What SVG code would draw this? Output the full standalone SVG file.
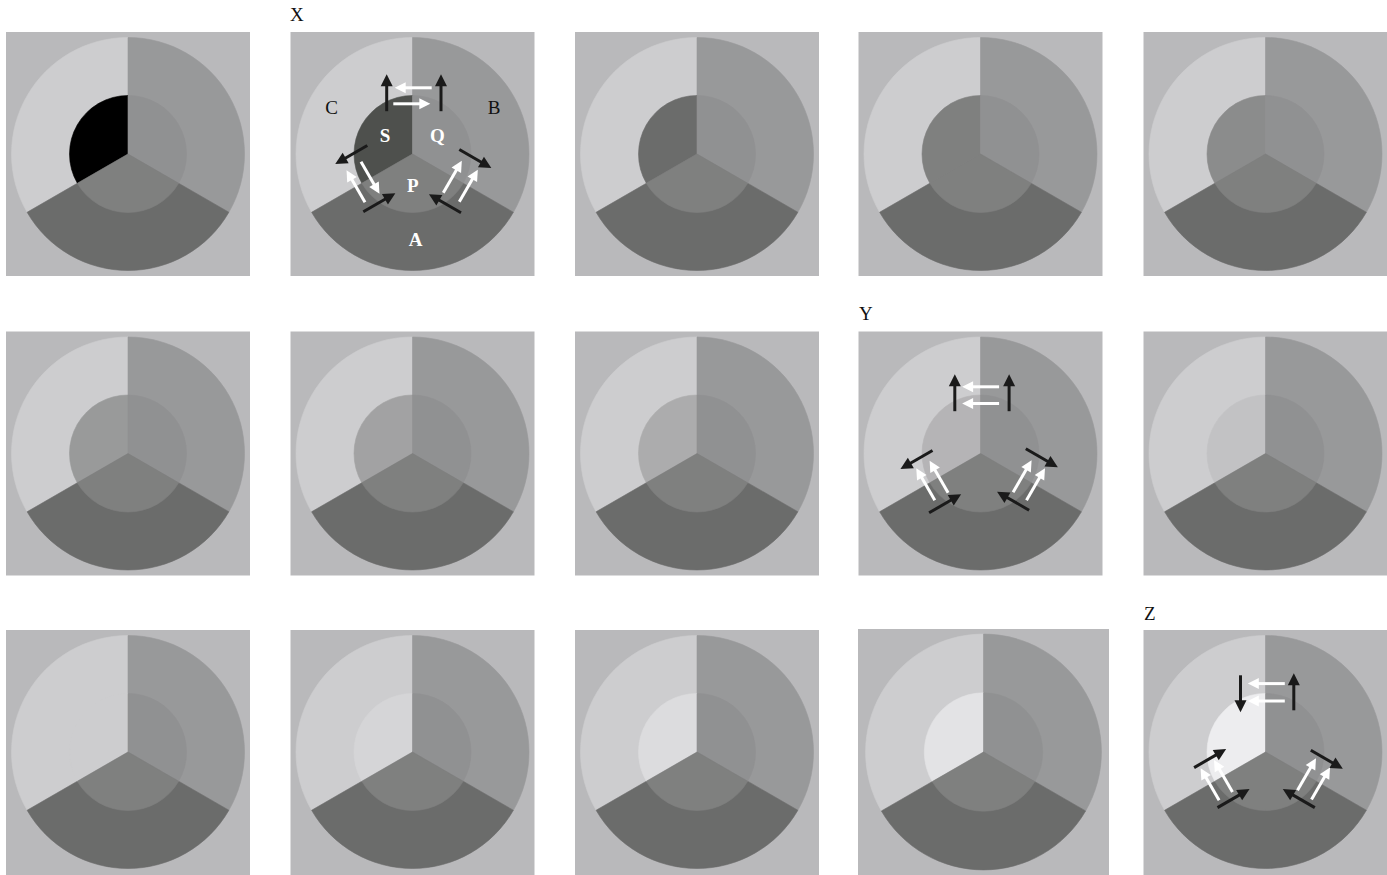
<svg xmlns="http://www.w3.org/2000/svg" width="1387" height="875" viewBox="0 0 1387 875">
<style>
.bg{fill:#b9b9bb}
.c{fill:#cdcdcf;stroke:#cdcdcf;stroke-width:0.6}
.b{fill:#98999a;stroke:#98999a;stroke-width:0.6}
.a{fill:#6b6c6b;stroke:#6b6c6b;stroke-width:0.6}
.p{fill:#7f807f;stroke:#7f807f;stroke-width:0.6}
.q{fill:#909192;stroke:#909192;stroke-width:0.6}
.s1{fill:#000000;stroke:#000000;stroke-width:0.6}
.s2{fill:#4e504d;stroke:#4e504d;stroke-width:0.6}
.s3{fill:#6b6c6b;stroke:#6b6c6b;stroke-width:0.6}
.s4{fill:#7f807f;stroke:#7f807f;stroke-width:0.6}
.s5{fill:#8b8c8c;stroke:#8b8c8c;stroke-width:0.6}
.s6{fill:#999a9a;stroke:#999a9a;stroke-width:0.6}
.s7{fill:#a2a2a3;stroke:#a2a2a3;stroke-width:0.6}
.s8{fill:#acacad;stroke:#acacad;stroke-width:0.6}
.s9{fill:#b5b4b6;stroke:#b5b4b6;stroke-width:0.6}
.s10{fill:#c2c2c4;stroke:#c2c2c4;stroke-width:0.6}
.s11{fill:#cdcdcf;stroke:#cdcdcf;stroke-width:0.6}
.s12{fill:#d5d5d7;stroke:#d5d5d7;stroke-width:0.6}
.s13{fill:#dcdcde;stroke:#dcdcde;stroke-width:0.6}
.s14{fill:#e3e3e5;stroke:#e3e3e5;stroke-width:0.6}
.s15{fill:#ededef;stroke:#ededef;stroke-width:0.6}
.t{font-family:"Liberation Serif","Times New Roman",serif;font-size:19px}
.k{fill:#111111}
.wt{fill:#ffffff;font-weight:bold}
</style>
<defs>
<path id="oC" d="M0,0 V-116.5 A116.5,116.5 0 0 0 -100.89,58.25 Z"/>
<path id="oB" d="M0,0 V-116.5 A116.5,116.5 0 0 1 100.89,58.25 Z"/>
<path id="oA" d="M0,0 L100.89,58.25 A116.5,116.5 0 0 1 -100.89,58.25 Z"/>
<path id="iS" d="M0,0 V-58.5 A58.5,58.5 0 0 0 -50.66,29.25 Z"/>
<path id="iQ" d="M0,0 V-58.5 A58.5,58.5 0 0 1 50.66,29.25 Z"/>
<path id="iP" d="M0,0 L50.66,29.25 A58.5,58.5 0 0 1 -50.66,29.25 Z"/>
<g id="ab"><line x1="0" y1="0" x2="27" y2="0" stroke="#1a1a1a" stroke-width="3"/><path d="M25,-6 L37,0 L25,6 Z" fill="#1a1a1a"/></g>
<g id="aw"><line x1="0" y1="0" x2="28" y2="0" stroke="#ffffff" stroke-width="3"/><path d="M26,-5.5 L37,0 L26,5.5 Z" fill="#ffffff"/></g>
</defs>

<!-- Row 1 -->
<g id="r1c1" transform="translate(128,154)">
<rect class="bg" x="-122" y="-122" width="244" height="244"/>
<use href="#oC" class="c"/><use href="#oB" class="b"/><use href="#oA" class="a"/>
<use href="#iS" class="s1"/><use href="#iQ" class="q"/><use href="#iP" class="p"/>
</g>
<g id="r1c2" transform="translate(412.5,154)">
<rect class="bg" x="-122" y="-122" width="244" height="244"/>
<use href="#oC" class="c"/><use href="#oB" class="b"/><use href="#oA" class="a"/>
<use href="#iS" class="s2"/><use href="#iQ" class="q"/><use href="#iP" class="p"/>
<text class="t k" x="-81" y="-40.5" text-anchor="middle">C</text>
<text class="t k" x="81.5" y="-40.5" text-anchor="middle">B</text>
<text class="t wt" x="-27.5" y="-12.3" text-anchor="middle">S</text>
<text class="t wt" x="25" y="-12.5" text-anchor="middle">Q</text>
<text class="t wt" x="0.2" y="37.7" text-anchor="middle">P</text>
<text class="t wt" x="3" y="92" text-anchor="middle">A</text>
</g>
<g id="r1c3" transform="translate(697,154)">
<rect class="bg" x="-122" y="-122" width="244" height="244"/>
<use href="#oC" class="c"/><use href="#oB" class="b"/><use href="#oA" class="a"/>
<use href="#iS" class="s3"/><use href="#iQ" class="q"/><use href="#iP" class="p"/>
</g>
<g id="r1c4" transform="translate(980.5,154)">
<rect class="bg" x="-122" y="-122" width="244" height="244"/>
<use href="#oC" class="c"/><use href="#oB" class="b"/><use href="#oA" class="a"/>
<use href="#iS" class="s4"/><use href="#iQ" class="q"/><use href="#iP" class="p"/>
</g>
<g id="r1c5" transform="translate(1265.5,154)">
<rect class="bg" x="-122" y="-122" width="244" height="244"/>
<use href="#oC" class="c"/><use href="#oB" class="b"/><use href="#oA" class="a"/>
<use href="#iS" class="s5"/><use href="#iQ" class="q"/><use href="#iP" class="p"/>
</g>

<!-- Row 2 -->
<g id="r2c1" transform="translate(128,453.5)">
<rect class="bg" x="-122" y="-122" width="244" height="244"/>
<use href="#oC" class="c"/><use href="#oB" class="b"/><use href="#oA" class="a"/>
<use href="#iS" class="s6"/><use href="#iQ" class="q"/><use href="#iP" class="p"/>
</g>
<g id="r2c2" transform="translate(412.5,453.5)">
<rect class="bg" x="-122" y="-122" width="244" height="244"/>
<use href="#oC" class="c"/><use href="#oB" class="b"/><use href="#oA" class="a"/>
<use href="#iS" class="s7"/><use href="#iQ" class="q"/><use href="#iP" class="p"/>
</g>
<g id="r2c3" transform="translate(697,453.5)">
<rect class="bg" x="-122" y="-122" width="244" height="244"/>
<use href="#oC" class="c"/><use href="#oB" class="b"/><use href="#oA" class="a"/>
<use href="#iS" class="s8"/><use href="#iQ" class="q"/><use href="#iP" class="p"/>
</g>
<g id="r2c4" transform="translate(980.5,453.5)">
<rect class="bg" x="-122" y="-122" width="244" height="244"/>
<use href="#oC" class="c"/><use href="#oB" class="b"/><use href="#oA" class="a"/>
<use href="#iS" class="s9"/><use href="#iQ" class="q"/><use href="#iP" class="p"/>
</g>
<g id="r2c5" transform="translate(1265.5,453.5)">
<rect class="bg" x="-122" y="-122" width="244" height="244"/>
<use href="#oC" class="c"/><use href="#oB" class="b"/><use href="#oA" class="a"/>
<use href="#iS" class="s10"/><use href="#iQ" class="q"/><use href="#iP" class="p"/>
</g>

<!-- Row 3 -->
<g id="r3c1" transform="translate(128,752)">
<rect class="bg" x="-122" y="-122" width="244" height="245"/>
<use href="#oC" class="c"/><use href="#oB" class="b"/><use href="#oA" class="a"/>
<use href="#iS" class="s11"/><use href="#iQ" class="q"/><use href="#iP" class="p"/>
</g>
<g id="r3c2" transform="translate(412.5,752)">
<rect class="bg" x="-122" y="-122" width="244" height="245"/>
<use href="#oC" class="c"/><use href="#oB" class="b"/><use href="#oA" class="a"/>
<use href="#iS" class="s12"/><use href="#iQ" class="q"/><use href="#iP" class="p"/>
</g>
<g id="r3c3" transform="translate(697,752)">
<rect class="bg" x="-122" y="-122" width="244" height="245"/>
<use href="#oC" class="c"/><use href="#oB" class="b"/><use href="#oA" class="a"/>
<use href="#iS" class="s13"/><use href="#iQ" class="q"/><use href="#iP" class="p"/>
</g>
<g id="r3c4" transform="translate(983.5,752)">
<rect class="bg" x="-125.5" y="-123" width="251" height="246"/>
<g transform="scale(1.012)">
<use href="#oC" class="c"/><use href="#oB" class="b"/><use href="#oA" class="a"/>
<use href="#iS" class="s14"/><use href="#iQ" class="q"/><use href="#iP" class="p"/>
</g>
</g>
<g id="r3c5" transform="translate(1265.5,752)">
<rect class="bg" x="-122" y="-122" width="244" height="245"/>
<use href="#oC" class="c"/><use href="#oB" class="b"/><use href="#oA" class="a"/>
<use href="#iS" class="s15"/><use href="#iQ" class="q"/><use href="#iP" class="p"/>
</g>

<!-- Panel titles -->
<g id="titles">
<text class="t k" x="290" y="21">X</text>
<text class="t k" x="859" y="320">Y</text>
<text class="t k" x="1144" y="620">Z</text>
</g>

<!-- Connectors (arrows) -->
<g id="connectors">
<g id="arrows-X" transform="translate(412.5,154)">
<use href="#ab" transform="translate(-25.8,-42.8) rotate(-90)"/>
<use href="#ab" transform="translate(28.5,-42.8) rotate(-90)"/>
<use href="#ab" transform="translate(-45.2,-8.5) rotate(150)"/>
<use href="#ab" transform="translate(46.8,-4.5) rotate(30)"/>
<use href="#ab" transform="translate(-49.2,57.8) rotate(-30)"/>
<use href="#ab" transform="translate(48.5,58.8) rotate(-150)"/>
<use href="#aw" transform="translate(19.2,-66.2) rotate(180)"/>
<use href="#aw" transform="translate(-19.2,-50.2) rotate(0)"/>
<use href="#aw" transform="translate(-47.5,48.2) rotate(-120)"/>
<use href="#aw" transform="translate(-51.5,7.8) rotate(60)"/>
<use href="#aw" transform="translate(30.8,38.8) rotate(-60)"/>
<use href="#aw" transform="translate(46.8,47.8) rotate(-60)"/>
</g>
<g id="arrows-Y" transform="translate(980.5,453.5)">
<use href="#ab" transform="translate(-25.7,-42.3) rotate(-90)"/>
<use href="#ab" transform="translate(28.6,-42.3) rotate(-90)"/>
<use href="#ab" transform="translate(-48,-3) rotate(150)"/>
<use href="#ab" transform="translate(45.3,-4.7) rotate(30)"/>
<use href="#ab" transform="translate(-51.4,59.3) rotate(-30)"/>
<use href="#ab" transform="translate(48.6,56.7) rotate(-150)"/>
<use href="#aw" transform="translate(18.6,-66.7) rotate(180)"/>
<use href="#aw" transform="translate(18.6,-50) rotate(180)"/>
<use href="#aw" transform="translate(-45.7,46.7) rotate(-120)"/>
<use href="#aw" transform="translate(-32.4,39.3) rotate(-120)"/>
<use href="#aw" transform="translate(32.6,38.7) rotate(-60)"/>
<use href="#aw" transform="translate(46,46.7) rotate(-60)"/>
</g>
<g id="arrows-Z" transform="translate(1265.5,752)">
<use href="#ab" transform="translate(-25,-76.7) rotate(90)"/>
<use href="#ab" transform="translate(28.3,-41.7) rotate(-90)"/>
<use href="#ab" transform="translate(-71.4,15.6) rotate(-30)"/>
<use href="#ab" transform="translate(45.3,-1.7) rotate(30)"/>
<use href="#ab" transform="translate(-48,55.6) rotate(-30)"/>
<use href="#ab" transform="translate(49.3,55.6) rotate(-150)"/>
<use href="#aw" transform="translate(19.3,-68.4) rotate(180)"/>
<use href="#aw" transform="translate(19.3,-51) rotate(180)"/>
<use href="#aw" transform="translate(-46.4,48.3) rotate(-120)"/>
<use href="#aw" transform="translate(-33,40) rotate(-120)"/>
<use href="#aw" transform="translate(32,38.3) rotate(-60)"/>
<use href="#aw" transform="translate(46,47.6) rotate(-60)"/>
</g>
</g>
</svg>
